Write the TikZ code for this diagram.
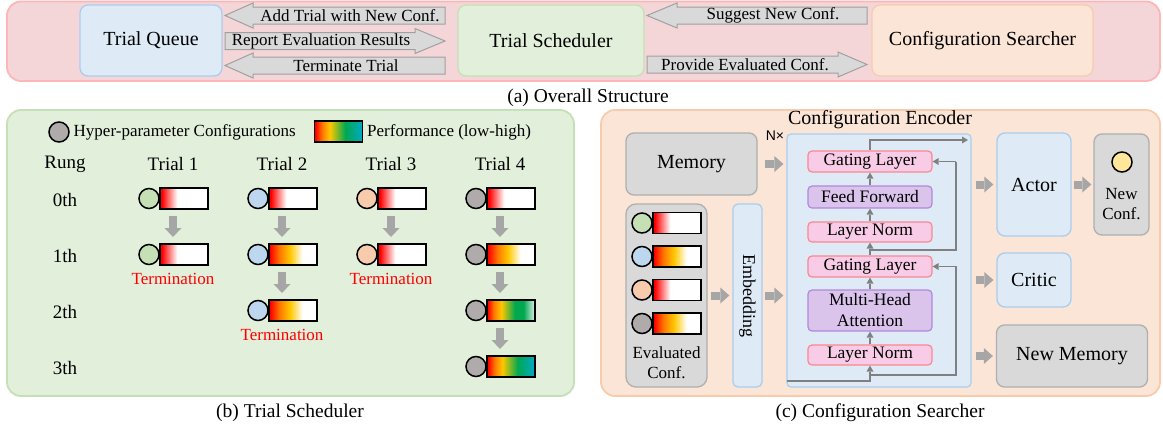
\documentclass[tikz,border=0pt]{standalone}
\usepackage{fontspec}
\setmainfont{Liberation Serif}
\newfontfamily\nxfont{Liberation Sans}
\usetikzlibrary{arrows.meta,calc}

\definecolor{aPanelF}{RGB}{245,214,216}
\definecolor{aPanelL}{RGB}{252,182,184}
\definecolor{blueF}{RGB}{222,235,247}
\definecolor{blueL}{RGB}{170,205,236}
\definecolor{greenF}{RGB}{226,239,218}
\definecolor{greenL}{RGB}{197,224,180}
\definecolor{orF}{RGB}{251,229,214}
\definecolor{orL}{RGB}{248,203,173}
\definecolor{grayF}{RGB}{217,217,217}
\definecolor{grayL}{RGB}{175,175,175}
\definecolor{blkL}{RGB}{160,160,160}
\definecolor{arrG}{RGB}{166,166,166}
\definecolor{lineG}{RGB}{128,128,128}
\definecolor{pinkF}{RGB}{248,204,230}
\definecolor{pinkL}{RGB}{250,135,145}
\definecolor{purF}{RGB}{218,196,236}
\definecolor{purL}{RGB}{178,135,222}
\definecolor{cGreen}{RGB}{197,224,180}
\definecolor{cBlue}{RGB}{189,215,238}
\definecolor{cPeach}{RGB}{248,203,173}
\definecolor{cGray}{RGB}{175,171,171}
\definecolor{cYellow}{RGB}{255,230,153}
\definecolor{termRed}{RGB}{255,0,0}
\definecolor{pRed}{RGB}{255,0,0}
\definecolor{pOrange}{RGB}{255,120,0}
\definecolor{pYellow}{RGB}{255,200,0}
\definecolor{pGreen}{RGB}{0,168,80}
\definecolor{pMint}{RGB}{225,245,232}
\definecolor{pTeal}{RGB}{0,168,200}

\pgfdeclarehorizontalshading{perfone}{100bp}{color(0bp)=(pRed); color(27bp)=(pRed); color(43bp)=(white); color(100bp)=(white)}
\pgfdeclarehorizontalshading{perftwo}{100bp}{color(0bp)=(pRed); color(26bp)=(pRed); color(36bp)=(pOrange); color(47bp)=(pYellow); color(60bp)=(white); color(100bp)=(white)}
\pgfdeclarehorizontalshading{perfthree}{100bp}{color(0bp)=(pRed); color(26bp)=(pRed); color(32bp)=(pOrange); color(40bp)=(pYellow); color(54bp)=(pGreen); color(63bp)=(pGreen); color(75bp)=(pMint); color(100bp)=(pMint)}
\pgfdeclarehorizontalshading{perffour}{100bp}{color(0bp)=(pRed); color(26bp)=(pRed); color(33bp)=(pOrange); color(41bp)=(pYellow); color(57bp)=(pGreen); color(75bp)=(pTeal); color(100bp)=(pTeal)}

\newcommand\myfs[1]{\fontsize{#1pt}{#1pt}\selectfont}
\newcommand\myfsl[2]{\fontsize{#1pt}{#2pt}\selectfont}

% left-pointing block arrow: tipx headx rightx yc
\newcommand\blkleft[4]{%
  \draw[blk] (#1,#4) -- (#2,#4-12.5) -- (#2,#4-8.5) -- (#3,#4-8.5) -- (#3,#4+8.5) -- (#2,#4+8.5) -- (#2,#4+12.5) -- cycle;}
% right-pointing block arrow: leftx headx tipx yc
\newcommand\blkright[4]{%
  \draw[blk] (#3,#4) -- (#2,#4-12.5) -- (#2,#4-8.5) -- (#1,#4-8.5) -- (#1,#4+8.5) -- (#2,#4+8.5) -- (#2,#4+12.5) -- cycle;}
% configuration item: name cx cy circlecolor shading
\newcommand\cfgitem[5]{%
  \node[itemcirc, fill=#4] (#1c) at (#2-24,#3) {};
  \node[itembar, shading=#5] (#1) at (#2+11,#3) {};
  \coordinate (#1b) at (#2,#3+17.5);
  \coordinate (#1t) at (#2,#3-17.5);}

\begin{document}
\begin{tikzpicture}[x=1pt,y=-1pt,
  panel/.style={rounded corners=14pt, line width=1.8pt},
  bigbox/.style={rounded corners=8pt, line width=1.3pt, inner sep=0pt, align=center},
  blk/.style={fill=grayF, draw=blkL, line width=1pt},
  arrlbl/.style={inner sep=0pt, font=\myfs{17}},
  txt/.style={inner sep=0pt},
  itemcirc/.style={circle, draw=black, line width=1.5pt, minimum size=20pt, inner sep=0pt},
  itembar/.style={rectangle, draw=black, line width=1.5pt, minimum width=48pt, minimum height=21pt, inner sep=0pt, shade},
  garrowv/.style={draw=arrG, line width=8pt, -{Triangle[width=17pt,length=9pt,line width=0pt]}},
  garrowh/.style={draw=arrG, line width=8pt, -{Triangle[width=16pt,length=9pt,line width=0pt]}},
  layerbox/.style={rounded corners=4pt, line width=1.2pt, inner sep=0pt, minimum width=124pt, align=center, font=\myfsl{17.5}{21}},
  pinklayer/.style={layerbox, fill=pinkF, draw=pinkL},
  purlayer/.style={layerbox, fill=purF, draw=purL},
  encl/.style={draw=lineG, line width=1.6pt},
  encarr/.style={encl, -{Triangle[length=6pt,width=7pt,line width=0pt]}},
  caption/.style={inner sep=0pt, font=\myfs{19.5}}
]
\useasboundingbox (0,0) rectangle (1163,431);

% ================= (a) =================
\draw[panel, fill=aPanelF, draw=aPanelL] (7,1.5) rectangle (1160,81);
\node[bigbox, fill=blueF, draw=blueL, minimum width=142pt, minimum height=71pt, font=\myfs{20}] (tq) at (151,40.5) {Trial Queue};
\node[bigbox, fill=greenF, draw=greenL, minimum width=186pt, minimum height=71pt, font=\myfs{20}] (ts) at (551,40.5) {Trial Scheduler};
\node[bigbox, fill=orF, draw=orL, minimum width=221pt, minimum height=71pt, font=\myfs{20}] (cs) at (982.5,40.5) {Configuration Searcher};

\blkleft{225}{253}{445}{15.5}
\node[arrlbl] (lAdd) at (350,15.5) {Add Trial with New Conf.};
\blkright{225}{415}{445}{41}
\node[arrlbl] (lRep) at (321,41) {Report Evaluation Results};
\blkleft{225}{253}{445}{65.5}
\node[arrlbl] (lTer) at (346,65.5) {Terminate Trial};
\blkleft{647}{677}{867}{15.5}
\node[arrlbl] (lSug) at (773,15.5) {Suggest New Conf.};
\blkright{647}{838}{867}{64.5}
\node[arrlbl] (lPro) at (745,64.5) {Provide Evaluated Conf.};

\node[caption] (capa) at (588,98) {(a) Overall Structure};

% ================= (b) =================
\draw[panel, fill=greenF, draw=greenL] (7,110) rectangle (574,396);
\node[itemcirc, fill=cGray] (legc) at (59,132) {};
\node[txt, anchor=west, font=\myfs{17}] (legt) at (73.5,132.5) {Hyper-parameter Configurations};
\node[itembar, shading=perffour] (legbar) at (338.5,131.5) {};
\node[txt, anchor=west, font=\myfs{17}] (legp) at (367,132.5) {Performance (low-high)};

\node[txt, font=\myfs{19}] (rung) at (65,164) {Rung};
\node[txt, font=\myfs{19}] (h1) at (173,164) {Trial 1};
\node[txt, font=\myfs{19}] (h2) at (282,164) {Trial 2};
\node[txt, font=\myfs{19}] (h3) at (391,164) {Trial 3};
\node[txt, font=\myfs{19}] (h4) at (500,164) {Trial 4};
\node[txt, font=\myfs{19}] (r0) at (65,200) {0th};
\node[txt, font=\myfs{19}] (r1) at (65,256) {1th};
\node[txt, font=\myfs{19}] (r2) at (65,312) {2th};
\node[txt, font=\myfs{19}] (r3) at (65,368) {3th};

\cfgitem{ta0}{173}{198.5}{cGreen}{perfone}
\cfgitem{ta1}{173}{254.5}{cGreen}{perfone}
\cfgitem{tb0}{282}{198.5}{cBlue}{perfone}
\cfgitem{tb1}{282}{254.5}{cBlue}{perftwo}
\cfgitem{tb2}{282}{310.5}{cBlue}{perftwo}
\cfgitem{tc0}{391}{198.5}{cPeach}{perfone}
\cfgitem{tc1}{391}{254.5}{cPeach}{perfone}
\cfgitem{td0}{500}{198.5}{cGray}{perfone}
\cfgitem{td1}{500}{254.5}{cGray}{perftwo}
\cfgitem{td2}{500}{310.5}{cGray}{perfthree}
\cfgitem{td3}{500}{366.5}{cGray}{perffour}

\draw[garrowv] (ta0b) -- (ta1t);
\draw[garrowv] (tb0b) -- (tb1t);
\draw[garrowv] (tb1b) -- (tb2t);
\draw[garrowv] (tc0b) -- (tc1t);
\draw[garrowv] (td0b) -- (td1t);
\draw[garrowv] (td1b) -- (td2t);
\draw[garrowv] (td2b) -- (td3t);

\node[txt, text=termRed, font=\myfs{17}] (term1) at (173,279) {Termination};
\node[txt, text=termRed, font=\myfs{17}] (term2) at (282,335) {Termination};
\node[txt, text=termRed, font=\myfs{17}] (term3) at (391,279) {Termination};

\node[caption] (capb) at (290,413) {(b) Trial Scheduler};

% ================= (c) =================
\draw[panel, fill=orF, draw=orL] (601,110) rectangle (1160,396);

\node[bigbox, fill=grayF, draw=grayL, minimum width=131pt, minimum height=62pt, font=\myfs{20}] (mem) at (691.5,164) {Memory};
\node[bigbox, rounded corners=10pt, fill=grayF, draw=grayL, minimum width=81pt, minimum height=183pt] (eval) at (666.5,295.5) {};
\cfgitem{ea}{666}{223}{cGreen}{perfone}
\cfgitem{eb}{666}{256.5}{cBlue}{perftwo}
\cfgitem{ec}{666}{290}{cPeach}{perfone}
\cfgitem{ed}{666}{323.5}{cGray}{perftwo}
\node[txt, align=center, font=\myfsl{17}{20}] (evalt) at (666.5,362.5) {Evaluated\\Conf.};

\node[bigbox, rounded corners=5pt, fill=blueF, draw=blueL, minimum width=29pt, minimum height=183pt] (emb) at (747.5,295.5) {};
\node[txt, rotate=-90, font=\myfs{18}] (embt) at (747.5,295.5) {Embedding};

\node[rectangle, rounded corners=4pt, fill=blueF, draw=blueL, line width=1.2pt, minimum width=184pt, minimum height=253pt, inner sep=0pt] (enc) at (879,260.5) {};
\node[txt, font=\myfs{20}] (enct) at (880,120) {Configuration Encoder};
\node[txt, font=\nxfont\myfs{14}] (nx) at (775,136) {N×};

\node[pinklayer, minimum height=21pt] (gl2) at (870,161.5) {Gating Layer};
\node[purlayer, minimum height=22pt] (ff) at (870,197) {Feed Forward};
\node[pinklayer, minimum height=20pt] (ln2) at (870,232) {Layer Norm};
\node[pinklayer, minimum height=21pt] (gl1) at (870,266.5) {Gating Layer};
\node[purlayer, minimum height=41pt] (mha) at (870,310.5) {Multi-Head\\Attention};
\node[pinklayer, minimum height=20pt] (ln1) at (870,355) {Layer Norm};

\coordinate (inL) at (787,381);
\coordinate (inC) at (870,381);
\coordinate (res1) at (870,375);
\coordinate (res1r) at (956,375);
\coordinate (res1u) at (956,266.5);
\coordinate (res2) at (870,250);
\coordinate (res2r) at (956,250);
\coordinate (res2u) at (956,161.5);
\coordinate (topC) at (870,140);
\coordinate (topR) at (968,140);

\draw[encarr] (inL) -- (inC) -- (ln1.south);
\draw[encarr] (res1) -- (res1r) -- (res1u) -- (gl1.east);
\draw[encarr] (ln1.north) -- (mha.south);
\draw[encarr] (mha.north) -- (gl1.south);
\draw[encarr] (gl1.north) -- (ln2.south);
\draw[encl] (res2) -- (res2r) -- (res2u);
\draw[encarr] (res2u) -- (gl2.east);
\draw[encarr] (ln2.north) -- (ff.south);
\draw[encarr] (ff.north) -- (gl2.south);
\draw[encarr] (gl2.north) -- (topC) -- (topR);

\node[bigbox, fill=blueF, draw=blueL, minimum width=74pt, minimum height=103pt, font=\myfs{20}] (actor) at (1034,184.5) {Actor};
\node[bigbox, fill=blueF, draw=blueL, minimum width=74pt, minimum height=54pt, font=\myfs{20}] (critic) at (1034,280) {Critic};
\node[bigbox, fill=grayF, draw=grayL, minimum width=151pt, minimum height=62pt, font=\myfs{20}] (newmem) at (1072,356) {New Memory};
\node[bigbox, fill=grayF, draw=grayL, minimum width=55pt, minimum height=101pt] (nconf) at (1121.5,184.5) {};
\node[itemcirc, fill=cYellow] (ncirc) at (1122,162) {};
\node[txt, align=center, font=\myfsl{17}{19.5}] (nconft) at (1121.5,204) {New\\Conf.};

\draw[garrowh] ([xshift=3pt]eval.east) -- ([xshift=-3pt]emb.west);
\draw[garrowh] ([xshift=2pt]emb.east) -- ([xshift=-3pt]enc.west |- emb.east);
\draw[garrowh] ([xshift=7pt]mem.east) -- ([xshift=-3pt]enc.west |- mem.east);
\draw[garrowh] ([xshift=4pt]enc.east |- actor.west) -- ([xshift=-3pt]actor.west);
\draw[garrowh] ([xshift=4pt]enc.east |- critic.west) -- ([xshift=-3pt]critic.west);
\draw[garrowh] ([xshift=4pt]enc.east |- newmem.west) -- ([xshift=-3pt]newmem.west);
\draw[garrowh] ([xshift=2pt]actor.east) -- ([xshift=-2pt]nconf.west);

\node[caption] (capc) at (880,413) {(c) Configuration Searcher};
\end{tikzpicture}
\end{document}
